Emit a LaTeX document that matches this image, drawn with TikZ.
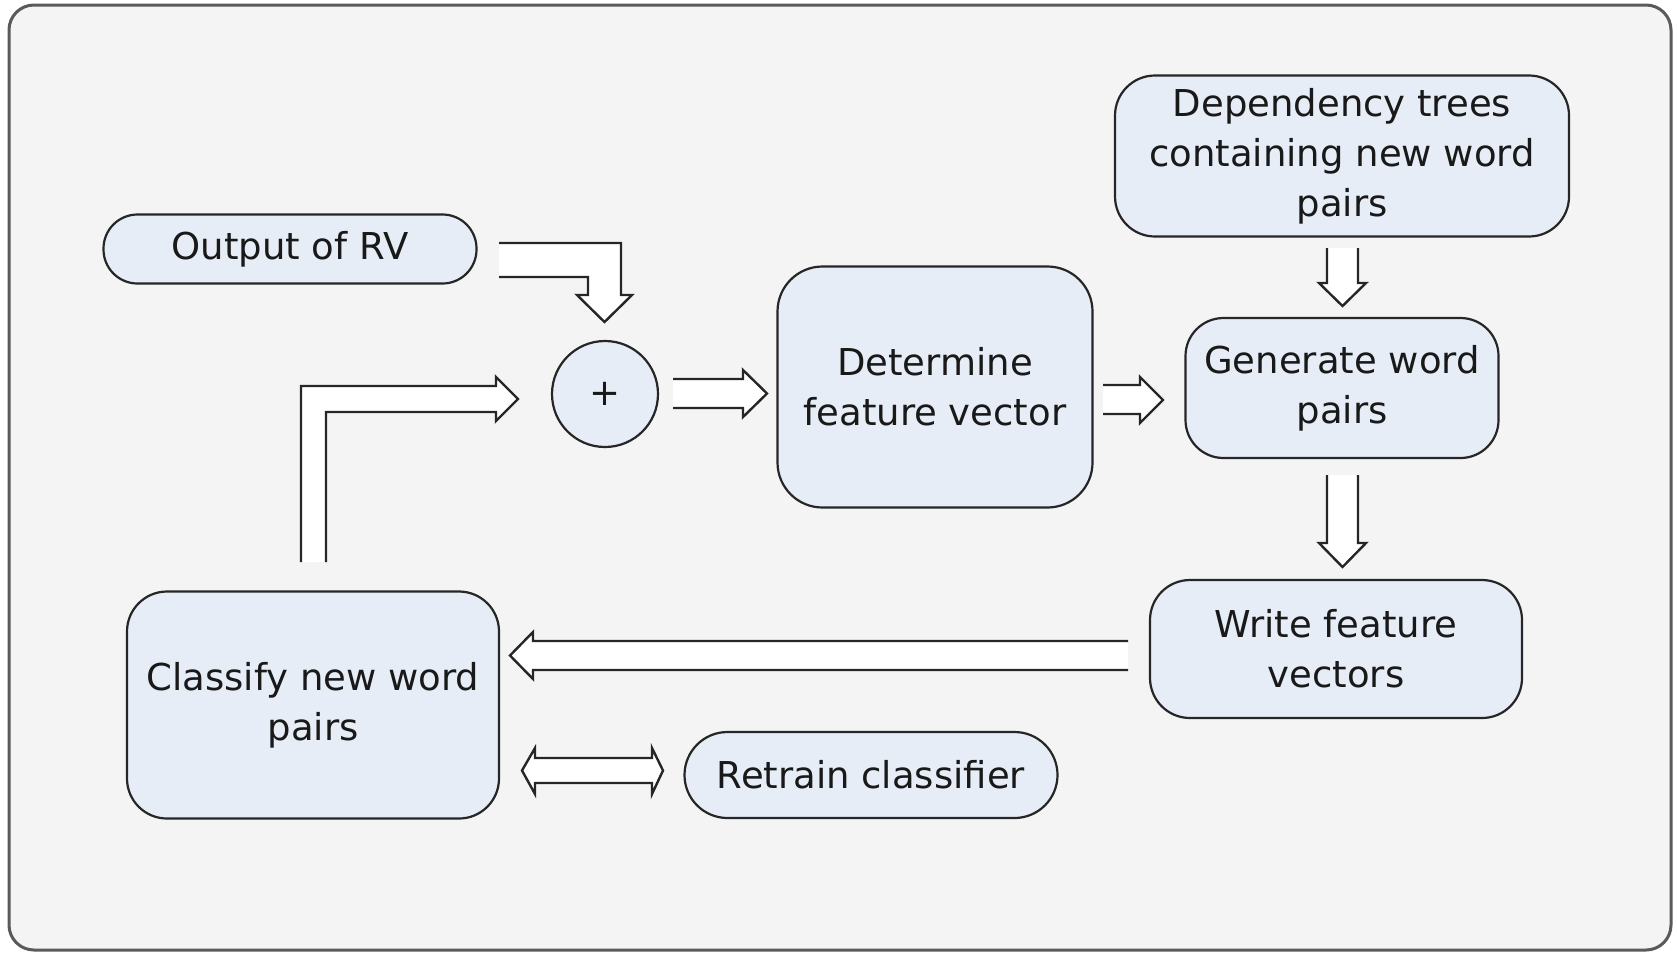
\documentclass[tikz,border=0pt]{standalone}
\usepackage{fontspec}
\setmainfont{DejaVu Sans}
\definecolor{bg}{HTML}{F4F4F4}
\definecolor{boxfill}{HTML}{E7EDF6}
\definecolor{framecol}{HTML}{5A5A5A}
\definecolor{edge}{HTML}{262626}
\begin{document}
\begin{tikzpicture}[x=1pt,y=-1pt,
  box/.style={draw=edge, line width=2.2pt, fill=boxfill, align=center, inner sep=0pt,
    text=black!90, font=\fontsize{37}{50}\selectfont},
  fat/.style={draw=edge, line width=2.4pt, fill=white, line join=miter}]
\useasboundingbox (0,0) rectangle (1677,954);
\draw[draw=framecol, line width=3pt, fill=bg, rounded corners=25pt] (9,5) rectangle (1671,950);

\node[box, minimum width=373pt, minimum height=69pt, rounded corners=34pt] (rv) at (290,249) {Output of RV};
\node[box, minimum width=454pt, minimum height=161pt, rounded corners=40pt] (dep) at (1342,156) {Dependency trees\\containing new word\\pairs};
\node[box, minimum width=313pt, minimum height=140pt, rounded corners=38pt] (gen) at (1342,388) {Generate word\\pairs};
\node[box, minimum width=315pt, minimum height=241pt, rounded corners=45pt] (det) at (935,387) {Determine\\feature vector};
\node[box, circle, minimum size=106pt] (plus) at (605,394) {+};
\node[box, minimum width=372pt, minimum height=138pt, rounded corners=40pt] (write) at (1336,649) {Write feature\\vectors};
\node[box, minimum width=372pt, minimum height=227pt, rounded corners=40pt] (cls) at (313,705) {Classify new word\\pairs};
\node[box, minimum width=373pt, minimum height=86pt, rounded corners=43pt] (rt) at (871,775) {Retrain classifier};

% Output of RV -> plus
\draw[fat] (499,243) -- (621,243) -- (621,295) -- (632,295) -- (604.5,322) -- (577,295) -- (588,295) -- (588,277) -- (499,277);
% Classify -> plus
\draw[fat] (301,562) -- (301,386) -- (496,386) -- (496,377) -- (518,399) -- (496,421) -- (496,412) -- (326,412) -- (326,562);
% plus -> Determine
\draw[fat] (673,379) -- (743,379) -- (743,370) -- (767,393.5) -- (743,417) -- (743,408) -- (673,408);
% Determine -> Generate
\draw[fat] (1103,385) -- (1140,385) -- (1140,377) -- (1163,400) -- (1140,423) -- (1140,414) -- (1103,414);
% Dependency -> Generate
\draw[fat] (1327,248) -- (1327,283) -- (1319,283) -- (1342.5,306) -- (1366,283) -- (1358,283) -- (1358,248);
% Generate -> Write
\draw[fat] (1327,475) -- (1327,543) -- (1319,543) -- (1342.5,567) -- (1366,543) -- (1358,543) -- (1358,475);
% Write -> Classify
\draw[fat] (1128,641) -- (533,641) -- (533,632) -- (510,655.5) -- (533,679) -- (533,670) -- (1128,670);
% Classify <-> Retrain
\draw[fat] (535,758) -- (652,758) -- (652,748) -- (663,770.5) -- (652,794) -- (652,783) -- (535,783) -- (535,794) -- (522,770.5) -- (535,748) -- cycle;
\end{tikzpicture}
\end{document}
